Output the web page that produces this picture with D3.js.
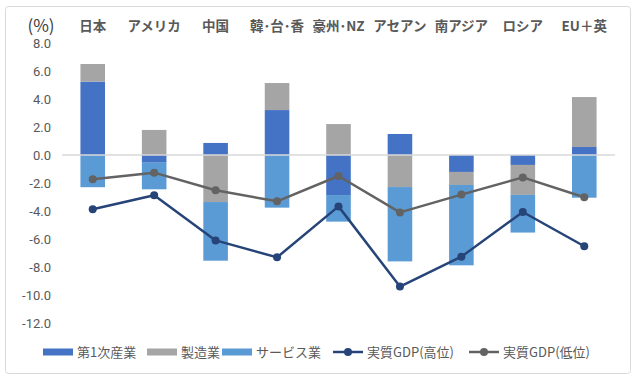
<!DOCTYPE html>
<html><head><meta charset="utf-8">
<script src="https://cdn.jsdelivr.net/npm/d3@7"></script>
<style>body{margin:0;background:#fff}svg text{font-family:"Noto Sans CJK JP","Noto Sans",sans-serif}</style>
</head><body><svg id="c" width="635" height="379"></svg>
<script>
const categories = ["日本","アメリカ","中国","韓･台･香","豪州･NZ","アセアン","南アジア","ロシア","EU＋英"];
const primary = [5.24,-0.55,0.86,3.21,-2.86,1.5,-1.21,-0.71,0.57];
const manufacturing = [1.26,1.79,-3.36,1.93,2.21,-2.29,-0.93,-2.14,3.57];
const services = [-2.3,-1.9,-4.19,-3.76,-1.9,-5.31,-5.74,-2.69,-3.05];
const gdpHigh = [-3.88,-2.88,-6.1,-7.31,-3.67,-9.4,-7.26,-4.07,-6.52];
const gdpLow = [-1.74,-1.26,-2.52,-3.31,-1.5,-4.1,-2.83,-1.6,-3.02];
const yTicks = [8,6,4,2,0,-2,-4,-6,-8,-10,-12];
const seriesNames = ["第1次産業","製造業","サービス業","実質GDP(高位)","実質GDP(低位)"];

const svg = d3.select("#c");
svg.append("rect").attr("x",5.5).attr("y",6.5).attr("width",625).attr("height",367).attr("rx",3)
  .attr("fill","#fff").attr("stroke","#D9D9D9");

const x = d3.scaleBand().domain(categories).range([62,615]).paddingInner(0.6).paddingOuter(0.3);
const y = d3.scaleLinear().domain([-12,8]).range([323,43]);

const yAxis = svg.append("g").attr("transform","translate(55,0)")
  .call(d3.axisLeft(y).tickValues(yTicks).tickSize(0).tickPadding(4).tickFormat(d=>d.toFixed(1)));
yAxis.select(".domain").remove();
yAxis.selectAll("text").attr("fill","#595959").style("font-size","13px").style("font-family","Roboto, 'Noto Sans', sans-serif");

const stackSeries = [primary, manufacturing, services];
const colors = ["#4472C4","#A5A5A5","#5B9BD5"];
const g = svg.append("g");
categories.forEach((c,i)=>{
  let pos=0, neg=0;
  stackSeries.forEach((s,k)=>{
    const v=s[i]; let y0,y1;
    if(v>=0){y0=pos;y1=pos+v;pos=y1;} else {y0=neg;y1=neg+v;neg=y1;}
    g.append("rect").attr("x",x(c)).attr("width",x.bandwidth())
      .attr("y",y(Math.max(y0,y1))).attr("height",Math.abs(y(y0)-y(y1))).attr("fill",colors[k]);
  });
});
svg.append("line").attr("x1",62).attr("x2",615).attr("y1",y(0)).attr("y2",y(0)).attr("stroke","#D9D9D9").attr("stroke-width",1.3);

const cx = c => x(c)+x.bandwidth()/2;
const lines = [[gdpHigh,"#264478"],[gdpLow,"#636363"]];
lines.forEach(([data,col])=>{
  svg.append("path").datum(data).attr("fill","none").attr("stroke",col).attr("stroke-width",2.5).attr("stroke-linejoin","round")
    .attr("d",d3.line().x((d,i)=>cx(categories[i])).y(d=>y(d)));
  svg.selectAll(null).data(data).enter().append("circle").attr("cx",(d,i)=>cx(categories[i])).attr("cy",d=>y(d)).attr("r",4).attr("fill",col);
});

// category labels
svg.selectAll(null).data(categories).enter().append("text").attr("x",d=>cx(d)).attr("y",31).attr("text-anchor","middle")
  .attr("fill","#595959").style("font-size","13.5px").style("font-weight","bold").text(d=>d);
svg.append("text").attr("x",41).attr("y",32).attr("text-anchor","middle").attr("fill","#404040").style("font-size","17px").text("(%)");

// legend
const lg = svg.append("g").style("font-size","13px");
const legendPos = [43,147,222,333,469];
seriesNames.forEach((n,k)=>{
  const lx = legendPos[k], ly=352;
  if(k<3){
    lg.append("rect").attr("x",lx).attr("y",ly-3.5).attr("width",30).attr("height",7).attr("fill",colors[k]);
  } else {
    const col = lines[k-3][1];
    lg.append("line").attr("x1",lx).attr("x2",lx+30).attr("y1",ly).attr("y2",ly).attr("stroke",col).attr("stroke-width",2.5);
    lg.append("circle").attr("cx",lx+15).attr("cy",ly).attr("r",4).attr("fill",col);
  }
  lg.append("text").attr("x",lx+34).attr("y",ly+4.5).attr("fill","#595959").text(n);
});
</script></body></html>
